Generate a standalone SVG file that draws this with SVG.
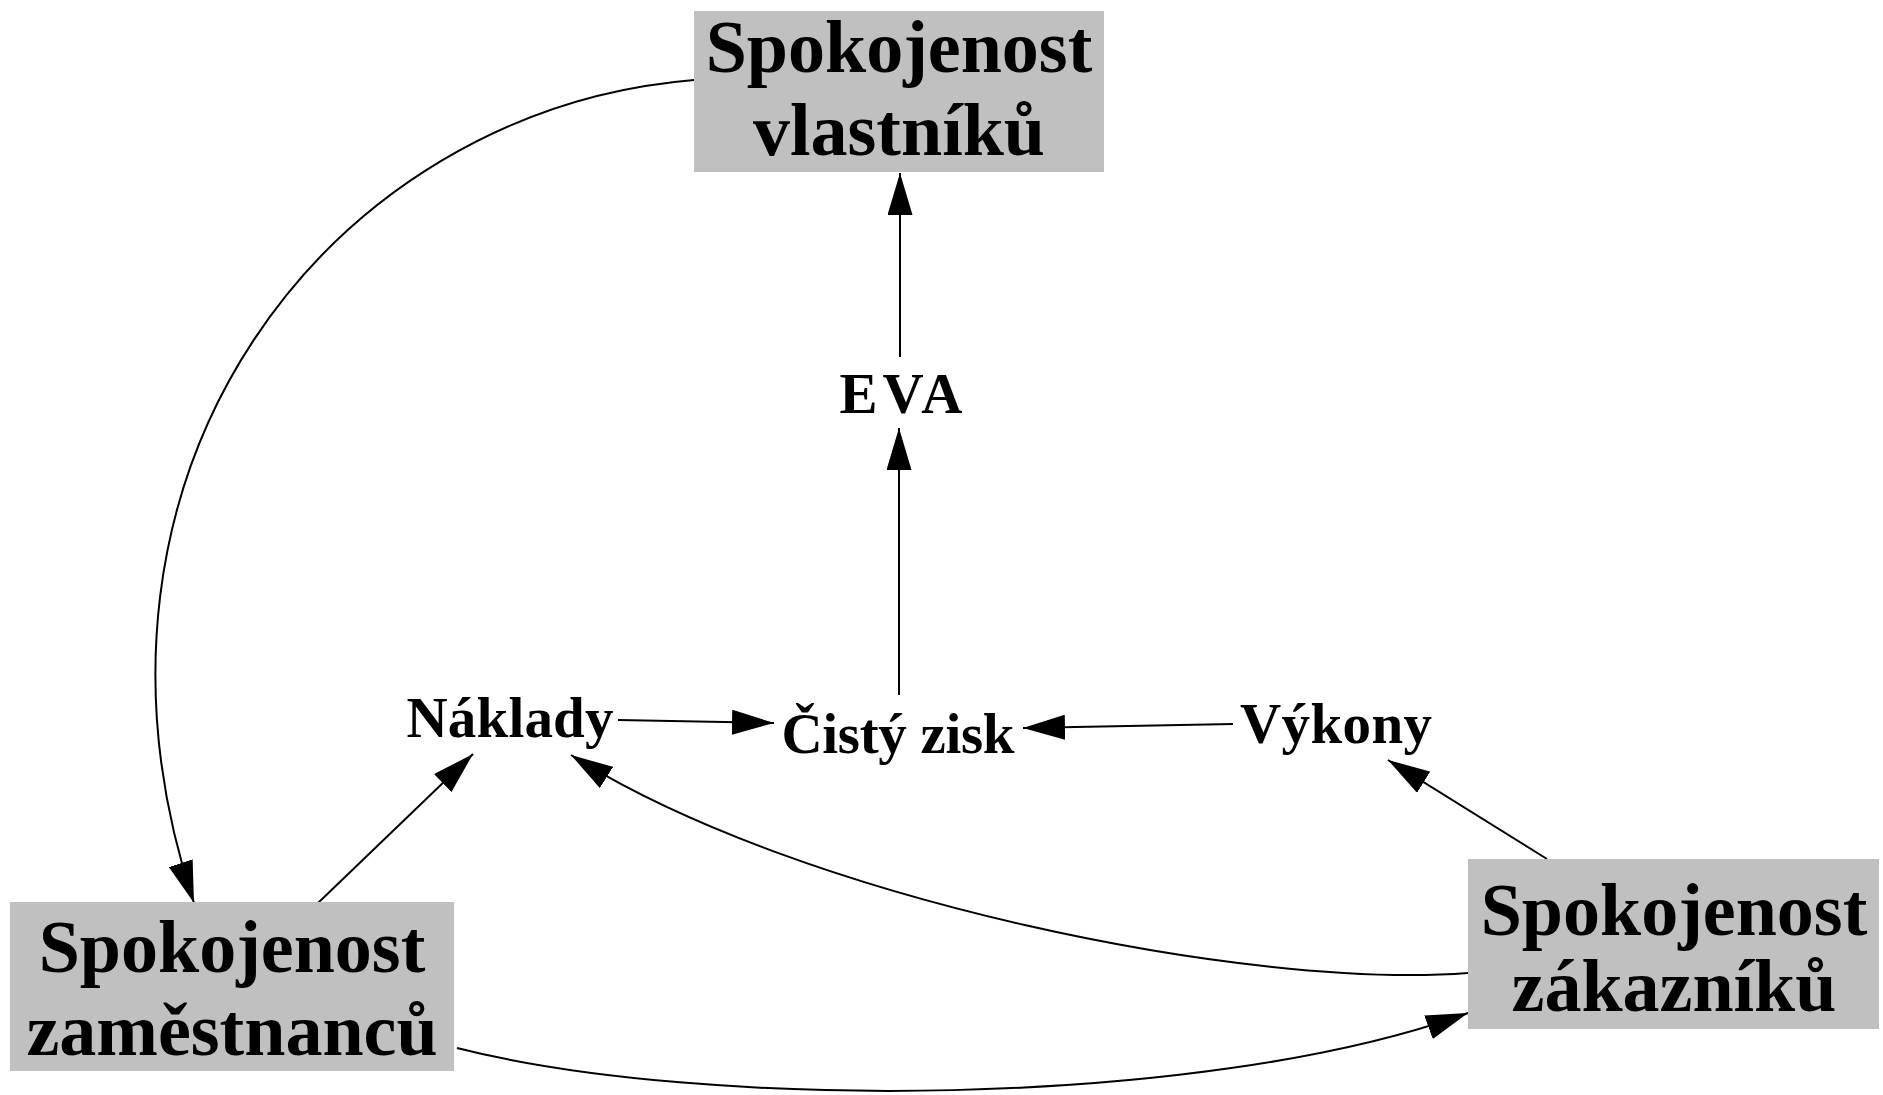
<svg xmlns="http://www.w3.org/2000/svg" width="1883" height="1095" viewBox="0 0 1883 1095">
<style>
  .box { fill: #c0c0c0; }
  .big { font-family: "Liberation Serif", "Times New Roman", serif; font-weight: bold; font-size: 74px; fill: #000; text-anchor: middle; }
  .lbl { font-family: "Liberation Serif", "Times New Roman", serif; font-weight: bold; font-size: 57px; fill: #000; text-anchor: middle; }
  .edge { fill: none; stroke: #000; stroke-width: 2; marker-end: url(#arrow); }
</style>
<defs>
  <marker id="arrow" markerUnits="userSpaceOnUse" markerWidth="42" markerHeight="25" viewBox="0 0 42 25" refX="42" refY="12.5" orient="auto">
    <path d="M0,0 L42,12.5 L0,25 Z" fill="#000"/>
  </marker>
</defs>
<rect width="1883" height="1095" fill="#fff"/>
<g id="connectors">
  <path class="edge" d="M694,80 C330,110 50,470 194,903"/>
  <line class="edge" x1="900" y1="357" x2="900" y2="173"/>
  <line class="edge" x1="899" y1="695" x2="899" y2="428"/>
  <line class="edge" x1="618" y1="720" x2="774" y2="723"/>
  <line class="edge" x1="1233" y1="724" x2="1023" y2="728"/>
  <line class="edge" x1="1547" y1="859" x2="1388" y2="760"/>
  <line class="edge" x1="318" y1="903" x2="473" y2="754"/>
  <path class="edge" d="M1468,973 C1250,990 800,900 571,755"/>
  <path class="edge" d="M457,1048 C700,1110 1200,1110 1468,1013"/>
</g>
<g id="node-vlastniku">
  <rect class="box" x="694" y="11" width="410" height="161"/>
  <text class="big" x="899" y="72">Spokojenost</text>
  <text class="big" x="899" y="155">vlastníků</text>
</g>
<g id="node-zamestnancu">
  <rect class="box" x="10" y="902" width="444" height="169"/>
  <text class="big" x="232" y="972">Spokojenost</text>
  <text class="big" x="232" y="1055">zaměstnanců</text>
</g>
<g id="node-zakazniku">
  <rect class="box" x="1468" y="859" width="411" height="170"/>
  <text class="big" x="1674" y="935">Spokojenost</text>
  <text class="big" x="1674" y="1011">zákazníků</text>
</g>
<g id="node-eva">
  <text class="lbl" x="901" y="413" textLength="123" lengthAdjust="spacing">EVA</text>
</g>
<g id="node-naklady">
  <text class="lbl" x="510" y="737" textLength="207" lengthAdjust="spacing">Náklady</text>
</g>
<g id="node-cisty-zisk">
  <text class="lbl" x="898" y="753" textLength="233" lengthAdjust="spacing">Čistý zisk</text>
</g>
<g id="node-vykony">
  <text class="lbl" x="1336" y="743" textLength="192" lengthAdjust="spacing">Výkony</text>
</g>
</svg>
